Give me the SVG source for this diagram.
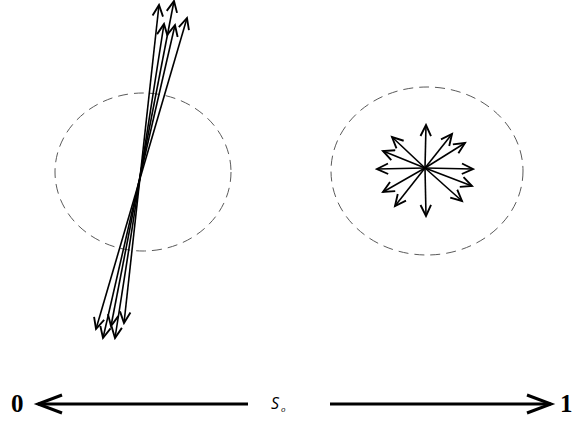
<svg xmlns="http://www.w3.org/2000/svg" width="573" height="421" viewBox="0 0 573 421">
<style>
.ell{fill:none;stroke:#5a5a5a;stroke-width:1;stroke-dasharray:10 6}
.vec{fill:none;stroke:#000;stroke-width:1.6}
.axis{fill:none;stroke:#000;stroke-width:3}
.num{font-family:"Liberation Serif",serif;font-weight:bold;font-size:25px;fill:#000}
.lab{font-family:"Open Sans","Liberation Sans",sans-serif;font-style:italic;fill:#000}
</style>
<defs>
<marker id="ah" markerUnits="userSpaceOnUse" markerWidth="14" markerHeight="14" refX="10" refY="5" orient="auto-start-reverse" viewBox="0 0 12 10">
<path d="M0.5,0.5 L10,5 L0.5,9.5" fill="none" stroke="#000" stroke-width="1.6"/>
</marker>
</defs>
<rect width="573" height="421" fill="#fff"/>
<g id="cloud-aligned">
<ellipse class="ell" cx="143" cy="172" rx="88" ry="79"/>
</g>
<g id="cloud-random">
<ellipse class="ell" cx="427" cy="171" rx="96" ry="84"/>
</g>
<g id="connectors">
<g id="aligned-vectors">
<line class="vec" x1="124" y1="323" x2="159" y2="5" marker-start="url(#ah)" marker-end="url(#ah)"/>
<line class="vec" x1="115" y1="338" x2="164" y2="24" marker-start="url(#ah)" marker-end="url(#ah)"/>
<line class="vec" x1="111" y1="326" x2="174" y2="1" marker-start="url(#ah)" marker-end="url(#ah)"/>
<line class="vec" x1="103" y1="338" x2="175" y2="25" marker-start="url(#ah)" marker-end="url(#ah)"/>
<line class="vec" x1="96" y1="329" x2="187" y2="18" marker-start="url(#ah)" marker-end="url(#ah)"/>
</g>
<g id="random-vectors">
<line class="vec" x1="425" y1="168" x2="426" y2="125" marker-end="url(#ah)"/>
<line class="vec" x1="425" y1="168" x2="426" y2="216" marker-end="url(#ah)"/>
<line class="vec" x1="425" y1="168" x2="377" y2="169" marker-end="url(#ah)"/>
<line class="vec" x1="425" y1="168" x2="473" y2="169" marker-end="url(#ah)"/>
<line class="vec" x1="425" y1="168" x2="392" y2="137" marker-end="url(#ah)"/>
<line class="vec" x1="425" y1="168" x2="383" y2="151" marker-end="url(#ah)"/>
<line class="vec" x1="425" y1="168" x2="452" y2="134" marker-end="url(#ah)"/>
<line class="vec" x1="425" y1="168" x2="465" y2="143" marker-end="url(#ah)"/>
<line class="vec" x1="425" y1="168" x2="472" y2="186" marker-end="url(#ah)"/>
<line class="vec" x1="425" y1="168" x2="462" y2="201" marker-end="url(#ah)"/>
<line class="vec" x1="425" y1="168" x2="395" y2="206" marker-end="url(#ah)"/>
<line class="vec" x1="425" y1="168" x2="383" y2="192" marker-end="url(#ah)"/>
</g>
<g id="axis">
<line class="axis" x1="38" y1="404" x2="248" y2="404"/>
<polyline class="axis" points="62,395 38,404 62,413"/>
<line class="axis" x1="330" y1="404" x2="551" y2="404"/>
<polyline class="axis" points="527,395 551,404 527,413"/>
</g>
</g>
<g id="labels">
<text class="lab" x="271" y="409" font-size="16">S</text>
<text class="lab" x="281" y="412" font-size="8">o</text>
<text class="num" x="11" y="412">0</text>
<text class="num" x="560" y="412">1</text>
</g>
</svg>
